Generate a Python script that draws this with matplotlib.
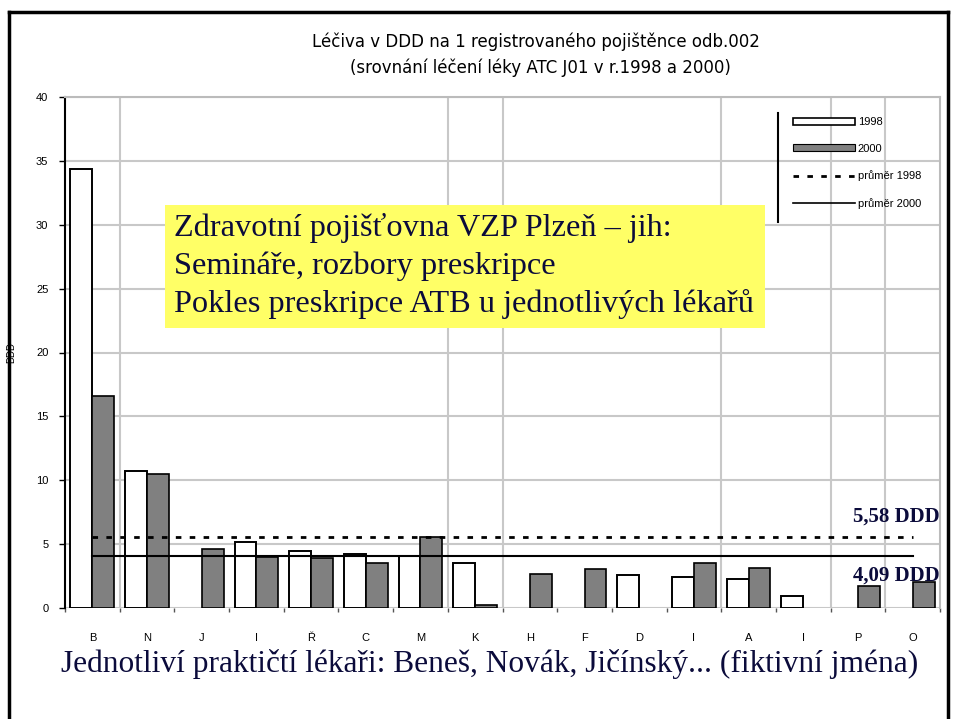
import numpy as np
import matplotlib.pyplot as plt
from matplotlib.patches import Rectangle, Patch
from matplotlib.lines import Line2D

# data
doctors = ['B', 'N', 'J', 'I', 'Ř', 'C', 'M', 'K', 'H', 'F', 'D', 'I', 'A', 'I', 'P', 'O']
ddd_1998 = [34.4, 10.7, 0, 5.15, 4.45, 4.2, 4.1, 3.5, 0, 0, 2.6, 2.45, 2.25, 0.95, 0, 0]
ddd_2000 = [16.6, 10.5, 4.6, 4.0, 3.95, 3.55, 5.55, 0.2, 2.65, 3.05, 0, 3.5, 3.15, 0, 1.7, 2.05]
mean_1998 = 5.58
mean_2000 = 4.09
yticks = [0, 5, 10, 15, 20, 25, 30, 35, 40]
vgrid = [0.5, 6.5, 7.5, 11.5, 13.5, 14.5]

navy = '#0b0b3b'
serif = 'Liberation Serif'

fig = plt.figure(figsize=(9.54, 7.19), dpi=100)
ax = fig.add_axes([65/954, 1 - 608/719, 875/954, 511/719])

x = np.arange(len(doctors))
w = 0.4
v98 = np.array(ddd_1998, dtype=float)
v00 = np.array(ddd_2000, dtype=float)
m98 = v98 > 0
m00 = v00 > 0
ax.bar(x[m98] - w, v98[m98], width=w, align='edge', color='white', edgecolor='black', lw=1.4, zorder=3)
ax.bar(x[m00], v00[m00], width=w, align='edge', color='#808080', edgecolor='black', lw=1.2, zorder=3)

ax.plot([x[0], x[-1]], [mean_1998, mean_1998], color='black', lw=2, ls=(0, (2, 3)), zorder=4)
ax.plot([x[0], x[-1]], [mean_2000, mean_2000], color='black', lw=1.5, zorder=4)

ax.set_xlim(-0.5, len(doctors) - 0.5)
ax.set_ylim(0, 40)
ax.set_yticks(yticks)
ax.set_yticklabels([str(v) for v in yticks], fontsize=8, family='Liberation Sans')
ax.set_xticks(x)
ax.set_xticklabels(doctors, fontsize=8, family='Liberation Sans')
ax.set_xticks(np.arange(len(doctors) + 1) - 0.5, minor=True)
ax.tick_params(axis='x', which='major', length=0, pad=18)
ax.tick_params(axis='x', which='minor', length=3, width=1, color='#555555')
ax.tick_params(axis='y', length=4, width=1, pad=8)
ax.yaxis.grid(True, color='#c8c8c8', lw=1.5, zorder=0)
for gx in vgrid:
    ax.axvline(gx, color='#c8c8c8', lw=1.5, zorder=0)
for s in ['top', 'right']:
    ax.spines[s].set_color('#bbbbbb')
    ax.spines[s].set_linewidth(1.5)
ax.spines['bottom'].set_visible(False)
ax.spines['left'].set_linewidth(1.5)
ax.set_ylabel('DDD', fontsize=7, family='Liberation Sans', labelpad=14)

handles = [Patch(facecolor='white', edgecolor='black', lw=1.2),
           Patch(facecolor='#808080', edgecolor='black', lw=0.8),
           Line2D([0], [0], color='black', lw=2, ls=(0, (2, 3))),
           Line2D([0], [0], color='black', lw=1.2)]
leg = ax.legend(handles, ['1998', '2000', 'průměr 1998', 'průměr 2000'],
                loc='upper right', bbox_to_anchor=(0.99, 0.98),
                frameon=False, handlelength=5.5, handleheight=0.6, handletextpad=0.3,
                labelspacing=1.5, prop={'family': 'Liberation Sans', 'size': 8})
fig.add_artist(Line2D([778/954, 778/954], [1 - 113/719, 1 - 222/719], color='black', lw=1.5))

ax.text(15.5, mean_1998 + 0.8, '5,58 DDD', ha='right', va='bottom', fontsize=15,
        fontweight='bold', family=serif, color=navy, zorder=5)
ax.text(15.5, mean_2000 - 0.8, '4,09 DDD', ha='right', va='top', fontsize=15,
        fontweight='bold', family=serif, color=navy, zorder=5)

# title
fig.text(536/954, 1 - 42/719, 'Léčiva v DDD na 1 registrovaného pojištěnce odb.002',
         ha='center', va='center', fontsize=12, family='DejaVu Sans')
fig.text(540/954, 1 - 68/719, '(srovnání léčení léky ATC J01 v r.1998 a 2000)',
         ha='center', va='center', fontsize=12, family='DejaVu Sans')

# yellow note box
fig.add_artist(Rectangle((165/954, 1 - 328/719), 600/954, 123/719,
                         facecolor='#ffff66', edgecolor='none', zorder=6))
note = ['Zdravotní pojišťovna VZP Plzeň – jih:',
        'Semináře, rozbory preskripce',
        'Pokles preskripce ATB u jednotlivých lékařů']
for i, line in enumerate(note):
    fig.text(174/954, 1 - (228 + 38 * i)/719, line, ha='left', va='center',
             fontsize=23.3, family=serif, color=navy, zorder=7)

fig.text(490/954, 1 - 664/719,
         'Jednotliví praktičtí lékaři: Beneš, Novák, Jičínský... (fiktivní jména)',
         ha='center', va='center', fontsize=22.6, family=serif, color=navy)

# slide frame
fig.add_artist(Line2D([9/954, 9/954], [0, 1 - 12/719], color='black', lw=2.5))
fig.add_artist(Line2D([9/954, 948/954], [1 - 12/719, 1 - 12/719], color='black', lw=2.5))
fig.add_artist(Line2D([948/954, 948/954], [0, 1 - 12/719], color='black', lw=2.5))

fig.savefig('out.png', dpi=100)
